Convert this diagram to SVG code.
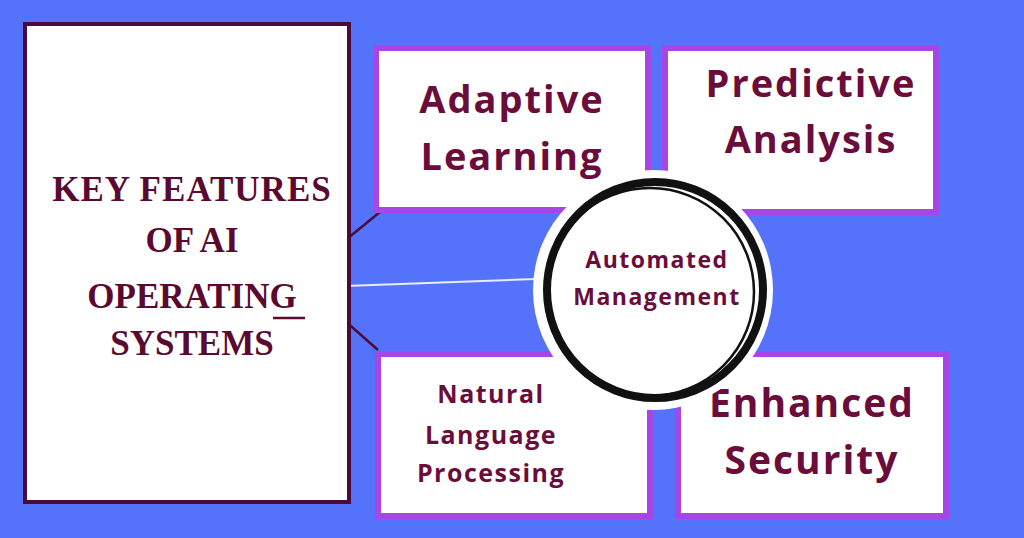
<svg xmlns="http://www.w3.org/2000/svg" width="1024" height="538" viewBox="0 0 1024 538">
<style>
.box{fill:#fff;stroke:#a745e6;stroke-width:6}
.t{font-family:"Open Sans","DejaVu Sans",sans-serif;font-weight:bold;fill:#6b0d3b;text-anchor:middle}
.s{font-family:"Liberation Serif",serif;font-weight:bold;fill:#5a0a30;text-anchor:middle;font-size:35px}
</style>
<rect width="1024" height="538" fill="#5572fa"/>
<g id="connectors" stroke-width="2.5">
<line x1="342" y1="243" x2="380" y2="212" stroke="#4a0a3a"/>
<line x1="345" y1="286" x2="535" y2="279" stroke="#e8eefc" stroke-width="2"/>
<line x1="344" y1="320" x2="378" y2="350" stroke="#4a0a3a"/>
</g>
<g id="title">
<rect x="25" y="24" width="324" height="478" fill="#fff" stroke="#4a0a3a" stroke-width="4"/>
<text class="s" x="192" y="201" letter-spacing="1">KEY FEATURES</text>
<text class="s" x="192" y="252">OF AI</text>
<text class="s" x="192" y="308">OPERATING</text>
<text class="s" x="192" y="355">SYSTEMS</text>
<line x1="273" y1="318" x2="305" y2="318" stroke="#5a0a30" stroke-width="2.5"/>
</g>
<g id="adaptive">
<rect class="box" x="376" y="48" width="272" height="162"/>
<text class="t" x="512" y="113" font-size="38" letter-spacing="2">Adaptive</text>
<text class="t" x="512" y="170" font-size="38" letter-spacing="2">Learning</text>
</g>
<g id="predictive">
<rect class="box" x="665" y="48" width="271" height="164"/>
<text class="t" x="811" y="97" font-size="38" letter-spacing="2">Predictive</text>
<text class="t" x="811" y="153" font-size="38" letter-spacing="2">Analysis</text>
</g>
<g id="nlp">
<rect class="box" x="378" y="354" width="272" height="162"/>
<text class="t" x="491" y="403" font-size="25" letter-spacing="1.5">Natural</text>
<text class="t" x="491" y="444" font-size="25" letter-spacing="1.5">Language</text>
<text class="t" x="491" y="482" font-size="25" letter-spacing="1.5">Processing</text>
</g>
<g id="security">
<rect class="box" x="678" y="354" width="268" height="162"/>
<text class="t" x="812" y="417" font-size="39" letter-spacing="2">Enhanced</text>
<text class="t" x="812" y="474" font-size="39" letter-spacing="2">Security</text>
</g>
<g id="automated">
<circle cx="653" cy="290" r="120" fill="#fff"/>
<circle cx="655" cy="290" r="108" fill="none" stroke="#111" stroke-width="8"/>
<circle cx="650" cy="292" r="104" fill="none" stroke="#111" stroke-width="2.5"/>
<text class="t" x="657" y="268" font-size="23" letter-spacing="1.5">Automated</text>
<text class="t" x="657" y="305" font-size="23" letter-spacing="1.5">Management</text>
</g>
</svg>
